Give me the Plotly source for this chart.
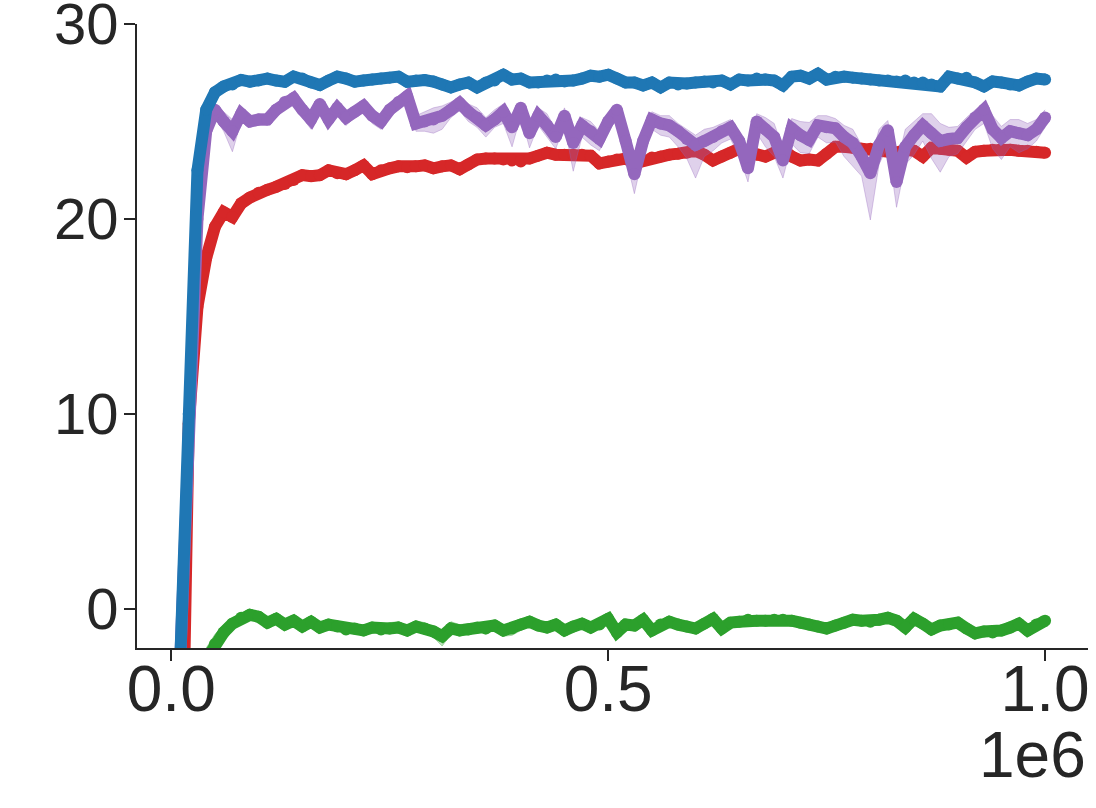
import plotly.graph_objects as go

# training steps (one evaluation every 10k steps)
steps = list(range(10000, 1000001, 10000))

# blue run
blue = [-3, 10, 22.5, 25.6, 26.5, 26.8, 26.9, 27.13, 27.04, 27.1,
        27.2, 27.1, 27.04, 27.3, 27.2, 27.0, 26.87, 27.1, 27.3, 27.2,
        27.04, 27.1, 27.15, 27.2, 27.25, 27.3, 27.04, 27.1, 27.13, 27.05,
        26.9, 26.75, 26.9, 27.0, 26.75, 27.0, 27.1, 27.4, 27.15, 27.2,
        27.0, 27.0, 27.1, 27.15, 27.05, 27.1, 27.2, 27.35, 27.3, 27.4,
        27.2, 27.0, 27.0, 26.85, 27.0, 26.75, 27.0, 26.9, 26.95, 27.0,
        27.05, 27.0, 27.1, 26.9, 27.15, 27.1, 27.2, 27.15, 27.1, 26.85,
        27.3, 27.35, 27.2, 27.45, 27.15, 27.3, 27.3, 27.25, 27.2, 27.15,
        27.1, 27.1, 27.05, 27.1, 27.0, 27.0, 26.9, 26.8, 27.3, 27.2,
        27.25, 27.0, 26.8, 27.05, 27.0, 26.9, 26.85, 27.05, 27.2, 27.15]

# red run
red = [-15, 9.5, 15.5, 18.0, 19.6, 20.35, 20.1, 20.8, 21.1, 21.35,
       21.5, 21.65, 21.8, 22.0, 22.25, 22.2, 22.25, 22.5, 22.35, 22.3,
       22.5, 22.75, 22.3, 22.5, 22.6, 22.7, 22.65, 22.7, 22.75, 22.6,
       22.7, 22.75, 22.55, 22.8, 23.05, 23.1, 23.1, 23.05, 23.0, 22.95,
       23.1, 23.25, 23.4, 23.3, 23.3, 23.3, 23.3, 23.25, 22.85, 22.95,
       23.05, 23.1, 22.85, 23.0, 23.15, 23.2, 23.3, 23.35, 23.4, 23.5,
       23.3, 23.0, 23.2, 23.4, 23.6, 23.45, 23.3, 23.2, 23.4, 23.55,
       23.2, 23.0, 23.05, 23.0, 23.35, 23.7, 23.7, 23.65, 23.6, 23.6,
       23.55, 23.5, 23.4, 23.55, 23.5, 23.2, 23.65, 23.6, 23.55, 23.5,
       23.15, 23.45, 23.5, 23.55, 23.6, 23.55, 23.5, 23.5, 23.45, 23.4]

# purple run (mean) and spread below / above
purple = [-3, 9, 20, 24.5, 25.6, 25.0, 24.5, 25.4, 25.0, 25.1,
          25.1, 25.6, 26.0, 26.2, 25.6, 25.1, 25.9, 25.1, 25.7, 25.2,
          25.5, 25.8, 25.3, 25.0, 25.6, 26.0, 26.3, 24.9, 25.0, 25.1,
          25.3, 25.6, 25.95, 25.5, 25.2, 24.8, 25.1, 25.5, 24.7, 25.7,
          24.4, 25.3, 24.8, 24.2, 25.3, 23.9, 24.8, 24.5, 24.1, 25.0,
          25.6, 24.0, 22.3, 24.0, 25.1, 24.9, 24.8, 24.5, 24.1, 23.8,
          24.0, 24.2, 24.5, 24.7, 24.0, 22.6, 25.0, 24.6, 24.2, 23.0,
          24.65, 24.3, 24.05, 24.8, 24.7, 24.65, 24.2, 23.9, 23.2, 22.35,
          23.8, 24.55, 21.9, 23.7, 24.3, 24.8, 24.4, 24.0, 24.1, 24.15,
          24.7, 25.2, 25.6, 24.6, 24.15, 24.5, 24.4, 24.3, 24.6, 25.2]
purple_dn = [0.3, 0.5, 0.6, 0.6, 0.4, 0.5, 1.05, 0.4, 0.3, 0.3,
             0.3, 0.3, 0.3, 0.3, 0.4, 0.5, 0.4, 0.4, 0.3, 0.4,
             0.3, 0.3, 0.4, 0.4, 0.3, 0.4, 0.3, 0.4, 0.5, 0.7,
             0.7, 0.4, 0.4, 0.5, 0.5, 0.6, 0.4, 0.6, 1.0, 0.4,
             0.75, 0.5, 0.6, 0.6, 0.5, 1.45, 0.6, 0.7, 0.6, 0.5,
             0.5, 0.8, 1.0, 0.7, 0.5, 0.6, 0.6, 0.8, 1.0, 1.7,
             0.8, 0.7, 0.6, 0.6, 0.8, 0.7, 0.6, 0.9, 1.0, 0.9,
             0.8, 0.9, 0.7, 0.6, 0.8, 0.7, 1.0, 1.2, 1.0, 2.4,
             1.0, 0.8, 1.3, 0.9, 1.0, 0.8, 1.3, 1.6, 0.9, 0.8,
             0.7, 0.6, 0.7, 1.0, 1.1, 0.8, 1.0, 0.7, 0.6, 0.5]
purple_up = [0.3, 0.5, 0.6, 0.6, 0.3, 0.5, 0.6, 0.3, 0.3, 0.3,
             0.3, 0.3, 0.3, 0.2, 0.3, 0.4, 0.3, 0.4, 0.3, 0.3,
             0.3, 0.3, 0.3, 0.3, 0.3, 0.3, 0.2, 0.4, 0.5, 0.6,
             0.5, 0.4, 0.3, 0.4, 0.5, 0.4, 0.5, 0.4, 0.5, 0.3,
             0.5, 0.4, 0.6, 0.4, 0.4, 0.5, 0.4, 0.5, 0.4, 0.4,
             0.3, 0.5, 0.6, 0.5, 0.4, 0.4, 0.5, 0.4, 0.5, 0.5,
             0.6, 0.5, 0.4, 0.4, 0.5, 0.6, 0.4, 0.6, 0.7, 0.6,
             0.5, 0.7, 0.9, 0.5, 0.6, 0.5, 0.6, 0.7, 0.6, 0.6,
             0.8, 0.5, 0.8, 0.9, 0.7, 0.6, 1.0, 0.9, 0.6, 0.6,
             0.5, 0.4, 0.4, 0.7, 0.6, 0.6, 0.7, 0.6, 0.5, 0.4]

# green run (mean) and spread below / above
green = [-10, -7, -4, -2.6, -1.8, -1.2, -0.75, -0.45, -0.3, -0.4,
         -0.7, -0.5, -0.8, -0.6, -0.9, -0.65, -0.95, -0.8, -0.9, -1.05,
         -1.0, -1.1, -0.95, -1.05, -1.0, -0.95, -1.1, -0.9, -1.0, -1.15,
         -1.4, -1.0, -1.1, -1.05, -0.95, -1.0, -0.85, -1.1, -1.0, -0.8,
         -0.65, -0.85, -0.95, -0.8, -1.1, -0.9, -0.75, -0.95, -0.8, -0.5,
         -1.2, -0.8, -0.85, -0.55, -1.1, -0.8, -0.65, -0.8, -0.9, -1.0,
         -0.75, -0.5, -1.0, -0.7, -0.65, -0.55, -0.6, -0.6, -0.55, -0.55,
         -0.6, -0.7, -0.8, -0.9, -1.0, -0.85, -0.7, -0.55, -0.6, -0.65,
         -0.55, -0.45, -0.6, -0.95, -0.5, -0.75, -1.05, -0.85, -0.8, -0.7,
         -1.0, -1.25, -1.15, -1.2, -1.1, -0.95, -0.75, -1.1, -0.8, -0.6]
green_dn = [0.3, 0.4, 0.4, 0.3, 0.3, 0.2, 0.2, 0.2, 0.15, 0.15,
            0.15, 0.15, 0.15, 0.15, 0.15, 0.15, 0.2, 0.2, 0.2, 0.2,
            0.2, 0.2, 0.25, 0.2, 0.25, 0.2, 0.2, 0.25, 0.2, 0.3,
            0.5, 0.3, 0.2, 0.25, 0.2, 0.3, 0.2, 0.3, 0.35, 0.3,
            0.2, 0.2, 0.2, 0.2, 0.2, 0.2, 0.2, 0.15, 0.15, 0.15,
            0.2, 0.15, 0.15, 0.15, 0.15, 0.15, 0.15, 0.15, 0.15, 0.15,
            0.15, 0.15, 0.15, 0.15, 0.15, 0.15, 0.15, 0.15, 0.15, 0.15,
            0.15, 0.15, 0.15, 0.15, 0.15, 0.15, 0.15, 0.15, 0.15, 0.15,
            0.15, 0.15, 0.15, 0.15, 0.15, 0.15, 0.15, 0.15, 0.15, 0.15,
            0.15, 0.15, 0.15, 0.15, 0.15, 0.15, 0.15, 0.15, 0.15, 0.15]
green_up = [0.4, 0.6, 0.7, 0.6, 0.5, 0.4, 0.3, 0.2, 0.15, 0.15,
            0.15, 0.15, 0.15, 0.15, 0.15, 0.15, 0.15, 0.2, 0.2, 0.2,
            0.25, 0.25, 0.2, 0.25, 0.3, 0.3, 0.25, 0.3, 0.3, 0.25,
            0.3, 0.35, 0.3, 0.3, 0.25, 0.3, 0.25, 0.2, 0.25, 0.2,
            0.2, 0.2, 0.2, 0.2, 0.2, 0.2, 0.15, 0.15, 0.15, 0.15,
            0.15, 0.15, 0.15, 0.15, 0.15, 0.15, 0.15, 0.15, 0.15, 0.15,
            0.15, 0.15, 0.15, 0.15, 0.15, 0.15, 0.15, 0.15, 0.15, 0.15,
            0.15, 0.15, 0.15, 0.15, 0.15, 0.15, 0.15, 0.15, 0.15, 0.15,
            0.15, 0.15, 0.15, 0.15, 0.15, 0.15, 0.15, 0.15, 0.15, 0.15,
            0.15, 0.15, 0.15, 0.15, 0.15, 0.15, 0.15, 0.15, 0.15, 0.15]

x_ticks = [0, 500000, 1000000]
x_tick_labels = ['0.0', '0.5', '1.0']
y_ticks = [0, 10, 20, 30]

INK = '#262626'
FONT = 'Liberation Sans, Arial, sans-serif'
LW = 12

fig = go.Figure()


def add_band(y, dn, up, rgb):
    lo = [v - d for v, d in zip(y, dn)]
    hi = [v + u for v, u in zip(y, up)]
    edge = 'rgba(%d,%d,%d,0.35)' % rgb
    fig.add_trace(go.Scatter(x=steps, y=lo, mode='lines',
                             line=dict(color=edge, width=1), hoverinfo='skip'))
    fig.add_trace(go.Scatter(x=steps, y=hi, mode='lines', fill='tonexty',
                             fillcolor='rgba(%d,%d,%d,0.3)' % rgb,
                             line=dict(color=edge, width=1), hoverinfo='skip'))


def add_line(y, color):
    # round dots on the vertices stand in for round line joins
    fig.add_trace(go.Scatter(x=steps, y=y, mode='lines+markers',
                             line=dict(color=color, width=LW),
                             marker=dict(color=color, size=LW, line=dict(width=0))))


add_band(green, green_dn, green_up, (44, 160, 44))
add_line(green, '#2ca02c')
add_line(red, '#d62728')
add_band(purple, purple_dn, purple_up, (148, 103, 189))
add_line(purple, '#9467bd')
add_line(blue, '#1f77b4')

fig.update_layout(
    width=1096,
    height=808,
    autosize=False,
    showlegend=False,
    paper_bgcolor='white',
    plot_bgcolor='white',
    margin=dict(l=137, r=8, t=24, b=160),
    font=dict(family=FONT, color=INK),
)

fig.update_xaxes(
    range=[-39200, 1049100],
    tickvals=x_ticks, ticktext=x_tick_labels,
    showgrid=False, zeroline=False, automargin=False,
    showline=True, linecolor=INK, linewidth=2,
    ticks='outside', ticklen=11, tickwidth=2, tickcolor=INK,
    ticklabelstandoff=-27, ticklabeloverflow='allow',
    tickfont=dict(size=64, family=FONT, color=INK),
)
fig.update_yaxes(
    range=[-2, 30],
    tickvals=y_ticks,
    showgrid=False, zeroline=False, automargin=False,
    showline=True, linecolor=INK, linewidth=2,
    ticks='outside', ticklen=11, tickwidth=2, tickcolor=INK,
    ticklabelstandoff=-6, ticklabeloverflow='allow',
    tickfont=dict(size=58, family=FONT, color=INK),
)

# offset text of the x axis, as matplotlib draws it
fig.add_annotation(
    text='1e6', xref='paper', yref='paper', x=1.0, y=-0.172,
    xanchor='right', yanchor='middle', showarrow=False,
    font=dict(size=64, family=FONT, color=INK),
)

# drop the page's default body margin so the figure sits at the window corner
fig.write_html("out.html", config={'displayModeBar': False},
               post_script="document.body.style.margin='0';document.body.style.overflow='hidden';")
